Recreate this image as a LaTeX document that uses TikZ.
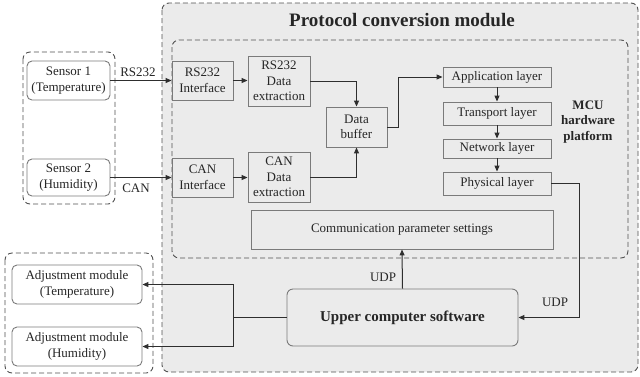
\documentclass[tikz,border=0pt]{standalone}
\usepackage{fontspec}
\setmainfont{Liberation Serif}
\usetikzlibrary{arrows.meta}
\definecolor{bgray}{HTML}{EBEBEB}
\definecolor{edge}{HTML}{7A7A7A}
\definecolor{wire}{HTML}{2E2E2E}
\definecolor{dash}{HTML}{505050}
\begin{document}
\begin{tikzpicture}[x=1pt,y=-1pt,
  txt/.style={font=\fontsize{13}{15.5}\selectfont, text=black!85},
  box/.style={txt, draw=edge, line width=0.9pt, fill=bgray, align=center, inner sep=1pt},
  rbox/.style={box, rounded corners=5pt, fill=white},
  grp/.style={draw=dash, dashed, dash pattern=on 5pt off 3pt, line width=0.9pt, rounded corners=7pt},
  con/.style={draw=wire, line width=1pt},
  arr/.style={con, -{Triangle[length=6pt,width=5pt]}},
  lbl/.style={txt}
]
\useasboundingbox (0,0) rectangle (640,376);
% groups
\draw[grp, fill=bgray] (162,3) rectangle (638,372);
\node[font=\bfseries\fontsize{19}{22}\selectfont, text=black!85] (title) at (402,20) {Protocol conversion module};
\draw[grp] (172,40) rectangle (628,258);
\draw[grp] (23,52) rectangle (115,204);
\draw[grp] (5,253) rectangle (153,373);
% nodes
\node[rbox, minimum width=83, minimum height=39] (s1) at (68.5,80.5) {Sensor 1\\(Temperature)};
\node[rbox, minimum width=83, minimum height=37] (s2) at (68.5,177.5) {Sensor 2\\(Humidity)};
\node[box, minimum width=61, minimum height=39] (rsi) at (202.5,80.5) {RS232\\Interface};
\node[box, minimum width=62, minimum height=50] (rsx) at (279,81) {RS232\\Data\\extraction};
\node[box, minimum width=61, minimum height=40] (buf) at (356.5,127) {Data\\buffer};
\node[box, minimum width=61, minimum height=39] (cani) at (202.5,177.5) {CAN\\Interface};
\node[box, minimum width=62, minimum height=50] (canx) at (279,177) {CAN\\Data\\extraction};
\node[box, minimum width=108, minimum height=20] (app) at (497,77) {Application layer};
\node[box, minimum width=108, minimum height=23] (tra) at (497,113.5) {Transport layer};
\node[box, minimum width=108, minimum height=19] (net) at (497,148.5) {Network layer};
\node[box, minimum width=108, minimum height=23] (phy) at (497,183.5) {Physical layer};
\node[font=\bfseries\fontsize{13}{15.5}\selectfont, text=black!85, align=center] (mcu) at (588,122) {MCU\\hardware\\platform};
\node[box, minimum width=302, minimum height=39] (comm) at (402,229.5) {Communication parameter settings};
\node[box, rounded corners=6pt, minimum width=231, minimum height=57, font=\bfseries\fontsize{15}{18}\selectfont] (upper) at (402.5,317.5) {Upper computer software};
\node[rbox, minimum width=130, minimum height=39] (adj1) at (77,284.5) {Adjustment module\\(Temperature)};
\node[rbox, minimum width=130, minimum height=39] (adj2) at (77,346.5) {Adjustment module\\(Humidity)};
% coordinates
\coordinate (bufturn) at (398,127);
\coordinate (phyturn) at (579,183.5);
\coordinate (split) at (233,317.5);
% connectors
\draw[arr] (s1.east) -- (rsi.west);
\node[lbl] (lrs) at (138,72) {RS232};
\draw[arr] (s2.east) -- (cani.west);
\node[lbl] (lcan) at (136,188) {CAN};
\draw[arr] (rsi.east) -- (rsx.west |- rsi.east);
\draw[arr] (cani.east) -- (canx.west |- cani.east);
\draw[arr] (rsx.east) -| (buf.north);
\draw[arr] (canx.east) -| (buf.south);
\draw[arr] (buf.east) -- (bufturn) |- (app.west);
\draw[arr] (app.south) -- (tra.north);
\draw[arr] (tra.south) -- (net.north);
\draw[arr] (net.south) -- (phy.north);
\draw[arr] (phy.east) -- (phyturn) |- (upper.east);
\node[lbl] (ludp2) at (555,302) {UDP};
\draw[arr] (upper.north) -- (comm.south);
\node[lbl] (ludp1) at (383,277) {UDP};
\draw[con] (upper.west) -- (split);
\draw[arr] (split) |- (adj1.east);
\draw[arr] (split) |- (adj2.east);
\end{tikzpicture}
\end{document}
